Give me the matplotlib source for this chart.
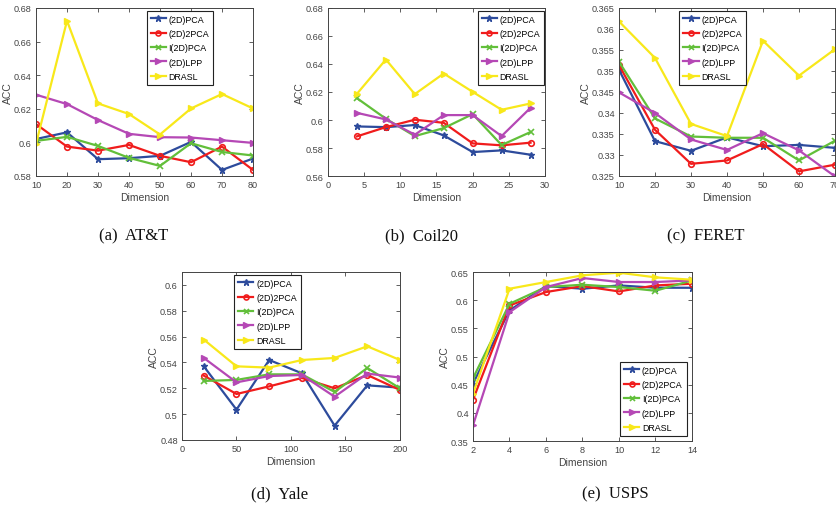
import numpy as np
import matplotlib.pyplot as plt

plt.rcParams['font.family'] = ['Liberation Sans', 'DejaVu Sans']

methods = ['(2D)PCA', '(2D)2PCA', 'I(2D)PCA', '(2D)LPP', 'DRASL']

# (a) AT&T
att_x = [10, 20, 30, 40, 50, 60, 70, 80]
att_pca = [0.602, 0.606, 0.590, 0.5906, 0.592, 0.6003, 0.5836, 0.5904]
att_2pca = [0.6109, 0.5975, 0.5951, 0.5985, 0.592, 0.5882, 0.5975, 0.5836]
att_ipca = [0.6009, 0.6033, 0.5979, 0.5908, 0.586, 0.5995, 0.5943, 0.5922]
att_lpp = [0.6284, 0.6228, 0.6133, 0.6051, 0.6031, 0.6029, 0.6013, 0.5997]
att_drasl = [0.5991, 0.6724, 0.6232, 0.6169, 0.6047, 0.6202, 0.6288, 0.6202]

# (b) Coil20
coil_x = [4, 8, 12, 16, 20, 24, 28]
coil_pca = [0.5954, 0.5949, 0.5964, 0.589, 0.5771, 0.5783, 0.5752]
coil_2pca = [0.5883, 0.5949, 0.6002, 0.598, 0.5833, 0.5819, 0.5838]
coil_ipca = [0.6156, 0.6009, 0.5885, 0.5942, 0.6042, 0.5821, 0.5914]
coil_lpp = [0.6051, 0.6004, 0.5895, 0.6035, 0.6035, 0.5885, 0.6087]
coil_drasl = [0.6187, 0.6432, 0.6185, 0.6332, 0.6201, 0.6073, 0.6118]

# (c) FERET
feret_x = [10, 20, 30, 40, 50, 60, 70]
feret_pca = [0.3503, 0.3333, 0.3310, 0.3342, 0.3321, 0.3324, 0.3317]
feret_2pca = [0.3514, 0.3360, 0.3279, 0.3287, 0.3326, 0.3261, 0.3277]
feret_ipca = [0.3522, 0.3387, 0.3344, 0.3341, 0.3341, 0.3287, 0.3334]
feret_lpp = [0.3449, 0.3400, 0.3337, 0.3312, 0.3352, 0.3311, 0.3249]
feret_drasl = [0.3618, 0.3531, 0.3374, 0.3345, 0.3572, 0.3489, 0.3552]

# (d) Yale
yale_x = [20, 50, 80, 110, 140, 170, 200]
yale_pca = [0.537, 0.5035, 0.5419, 0.5316, 0.4911, 0.5223, 0.5205]
yale_2pca = [0.5298, 0.5156, 0.5215, 0.528, 0.520, 0.5303, 0.5187]
yale_ipca = [0.5257, 0.5265, 0.5308, 0.5308, 0.5172, 0.5357, 0.520]
yale_lpp = [0.5435, 0.5246, 0.5295, 0.5303, 0.5135, 0.5314, 0.5283]
yale_drasl = [0.5577, 0.537, 0.536, 0.5419, 0.5435, 0.5525, 0.5419]

# (e) USPS
usps_x = [2, 4, 6, 8, 10, 12, 14]
usps_pca = [0.452, 0.5817, 0.625, 0.6203, 0.6262, 0.6221, 0.622]
usps_2pca = [0.4233, 0.5906, 0.6144, 0.625, 0.6155, 0.6262, 0.6292]
usps_ipca = [0.4613, 0.5935, 0.6233, 0.6274, 0.6233, 0.6167, 0.6351]
usps_lpp = [0.378, 0.5787, 0.6233, 0.6393, 0.6322, 0.6322, 0.6351]
usps_drasl = [0.434, 0.6203, 0.6322, 0.6441, 0.6488, 0.6405, 0.6363]

styles = [
    dict(color='#2d4b9c', marker='*', ms=5),
    dict(color='#f01c1c', marker='o', ms=4, mfc='none', mew=1.2),
    dict(color='#62bf3a', marker='x', ms=4, mew=1.2),
    dict(color='#b548b5', marker='>', ms=5),
    dict(color='#f8e81a', marker='>', ms=5),
]

W, H = 837, 510
fig = plt.figure(figsize=(W / 100, H / 100), dpi=100)


def px_axes(left, top, right, bottom):
    return fig.add_axes([left / W, 1 - bottom / H, (right - left) / W, (bottom - top) / H])


def panel(ax, x, series, xlim, xticks, ylim, yticks, leg_loc, leg_anchor):
    for ys, name, st in zip(series, methods, styles):
        ax.plot(x, ys, label=name, lw=1.6, **st)
    ax.set_xlim(*xlim)
    ax.set_ylim(*ylim)
    ax.set_xticks(xticks)
    ax.set_yticks(yticks)
    ax.yaxis.set_major_formatter(plt.FuncFormatter(lambda v, p: '%g' % round(v, 4)))
    ax.tick_params(direction='in', top=True, right=True, labelsize=6.6,
                   colors='#444444', length=3, width=0.6, pad=3)
    for s in ax.spines.values():
        s.set_color('#444444')
        s.set_linewidth(0.7)
    ax.set_xlabel('Dimension', fontsize=7.5, color='#444444', labelpad=2)
    ax.set_ylabel('ACC', fontsize=7.5, color='#444444', labelpad=1)
    leg = ax.legend(fontsize=6.4, fancybox=False, framealpha=1, handlelength=1.7,
                    borderpad=0.45, labelspacing=0.6, handletextpad=0.3,
                    borderaxespad=0, markerscale=0.9,
                    loc=leg_loc, bbox_to_anchor=leg_anchor)
    leg.get_frame().set_edgecolor('#222222')
    leg.get_frame().set_linewidth(0.8)


ax = px_axes(36, 9, 253, 177)
panel(ax, att_x, [att_pca, att_2pca, att_ipca, att_lpp, att_drasl],
      (10, 80), att_x, (0.58, 0.68), np.arange(0.58, 0.681, 0.02),
      'upper left', (0.51, 0.985))

ax = px_axes(328, 9, 545, 177)
panel(ax, coil_x, [coil_pca, coil_2pca, coil_ipca, coil_lpp, coil_drasl],
      (0, 30), np.arange(0, 31, 5), (0.56, 0.68), np.arange(0.56, 0.681, 0.02),
      'upper right', (0.995, 0.985))

ax = px_axes(619, 9, 835, 177)
panel(ax, feret_x, [feret_pca, feret_2pca, feret_ipca, feret_lpp, feret_drasl],
      (10, 70), feret_x, (0.325, 0.365), np.arange(0.325, 0.3651, 0.005),
      'upper left', (0.28, 0.985))

ax = px_axes(182, 273, 400, 441)
panel(ax, yale_x, [yale_pca, yale_2pca, yale_ipca, yale_lpp, yale_drasl],
      (0, 200), np.arange(0, 201, 50), (0.48, 0.61), np.arange(0.48, 0.601, 0.02),
      'upper left', (0.24, 0.985))

ax = px_axes(473, 273, 692, 442)
panel(ax, usps_x, [usps_pca, usps_2pca, usps_ipca, usps_lpp, usps_drasl],
      (2, 14), usps_x, (0.35, 0.65), np.arange(0.35, 0.651, 0.05),
      'lower right', (0.975, 0.03))

captions = [('(a)  AT&T', 134, 236), ('(b)  Coil20', 422, 236), ('(c)  FERET', 706, 236),
            ('(d)  Yale', 280, 494), ('(e)  USPS', 615, 494)]
for txt, cx, cy in captions:
    fig.text(cx / W, 1 - cy / H, txt, ha='center', va='center', fontsize=12,
             family='Liberation Serif', color='#111111')

fig.savefig('out.png', dpi=100)
